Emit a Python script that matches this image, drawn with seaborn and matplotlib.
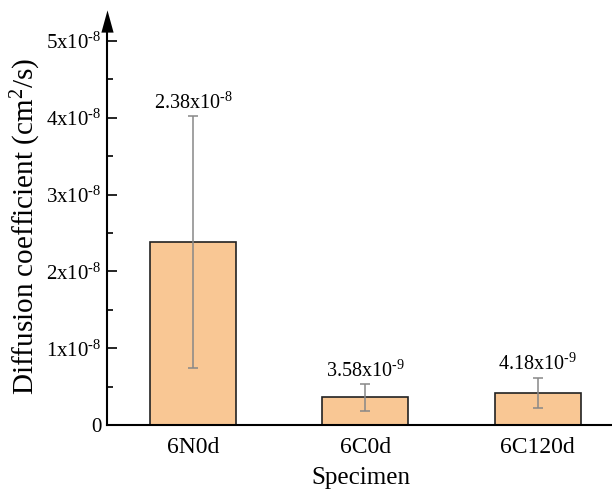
import matplotlib
matplotlib.use("Agg")
import matplotlib.pyplot as plt
import numpy as np
import pandas as pd
import seaborn as sns

# data
specimens = ["6N0d", "6C0d", "6C120d"]
diff_coef = [2.38e-8, 3.58e-9, 4.18e-9]
diff_err = [1.64e-8, 1.7e-9, 1.95e-9]
bar_labels = [r"2.38x10$^{\text{-8}}$", r"3.58x10$^{\text{-9}}$", r"4.18x10$^{\text{-9}}$"]
ytick_vals = [0, 1e-8, 2e-8, 3e-8, 4e-8, 5e-8]
ytick_labels = ["0", r"1x10$^{\text{-8}}$", r"2x10$^{\text{-8}}$", r"3x10$^{\text{-8}}$",
                r"4x10$^{\text{-8}}$", r"5x10$^{\text{-8}}$"]

df = pd.DataFrame({"Specimen": specimens, "D": diff_coef})

sns.set_style("white")
plt.rcParams["font.family"] = ["Liberation Serif", "DejaVu Serif"]
plt.rcParams["mathtext.fontset"] = "custom"
plt.rcParams["mathtext.rm"] = "Liberation Serif"
plt.rcParams["mathtext.it"] = "Liberation Serif:italic"
plt.rcParams["mathtext.default"] = "regular"
plt.rcParams["text.color"] = "black"
plt.rcParams["axes.labelcolor"] = "black"
plt.rcParams["xtick.color"] = "black"
plt.rcParams["ytick.color"] = "black"

fig = plt.figure(figsize=(6.12, 4.94), dpi=100)
ax = fig.add_axes([0.175, 0.1397, 0.83, 0.8036])

sns.barplot(data=df, x="Specimen", y="D", color="#F9C794", edgecolor="#222222",
            linewidth=1.2, width=0.5, saturation=1, ax=ax)
ax.errorbar(range(len(specimens)), diff_coef, yerr=diff_err, fmt="none",
            ecolor="#888888", elinewidth=1.1, capsize=3.5, capthick=1.1)

for i, (v, e, lab) in enumerate(zip(diff_coef, diff_err, bar_labels)):
    ax.annotate(lab, (i, v + e), xytext=(0, 2), textcoords="offset points",
                ha="center", va="bottom", fontsize=14.5)

ax.set_xlim(-0.5, 2.45)
ax.set_ylim(0, 5.17e-8)
ax.set_yticks(ytick_vals)
ax.set_yticklabels(ytick_labels)
ax.set_yticks([0.5e-8, 1.5e-8, 2.5e-8, 3.5e-8, 4.5e-8], minor=True)
ax.tick_params(axis="y", which="major", direction="in", length=7, width=1.2,
               labelsize=15, left=True, pad=4)
ax.tick_params(axis="y", which="minor", direction="in", length=4, width=1.2, left=True)
ax.tick_params(axis="x", length=0, labelsize=17, pad=9)

for s in ["top", "right"]:
    ax.spines[s].set_visible(False)
for s in ["left", "bottom"]:
    ax.spines[s].set_color("black")
    ax.spines[s].set_linewidth(1.5)

# arrow head on top of the y axis
ax.plot([0], [1.018], marker=[(-0.55, -1), (0.55, -1), (0, 1)], markersize=16,
        color="black", markeredgewidth=0, transform=ax.transAxes, clip_on=False)

ax.set_xlabel("Specimen", fontsize=18, labelpad=6)
ax.set_ylabel(r"Diffusion coefficient (cm$^2$/s)", fontsize=21, labelpad=2)

fig.savefig("out.png", dpi=100)
